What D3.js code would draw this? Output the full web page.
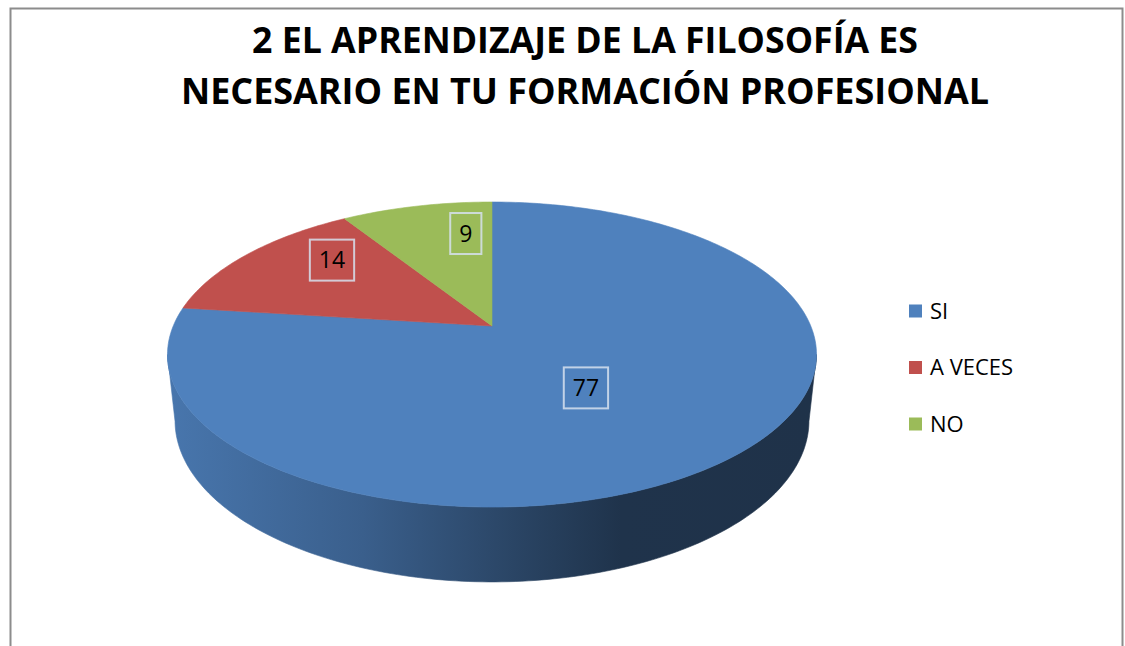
<!DOCTYPE html>
<html lang="es">
<head>
  <meta charset="UTF-8">
  <title>2 El aprendizaje de la filosofía</title>
  <style>
    *{box-sizing:border-box;margin:0;padding:0}
    body{background:#fff;width:1125px;height:646px;overflow:hidden}
    text{font-family:'Open Sans','DejaVu Sans',sans-serif;fill:#000}
  </style>
  <script src="https://d3js.org/d3.v7.min.js"></script>
</head>
<body>
  <div id="chart"></div>
  <script>
    /* ---------- DATA ---------- */
    const categories = ['SI', 'A VECES', 'NO'];
    const values     = [77, 14, 9];
    const colors     = ['#4f81bd', '#c0504d', '#9bbb59'];
    const titleLines = ['2 EL APRENDIZAJE DE LA FILOSOFÍA ES', 'NECESARIO EN TU FORMACIÓN PROFESIONAL'];
    // where each label sits: fraction along the slice, fraction of radius (best fit look)
    const labelAt    = [{t:0.523, r:0.476}, {t:0.685, r:0.734}, {t:0.77, r:0.718}];

    /* ---------- 3D SETUP ---------- */
    const W = 1125, H = 646;
    const cx = 492, cy = 326;          // screen position of the pie centre
    const tilt = 27.5 * Math.PI / 180;  // elevation of the camera
    const camDist = 4.74, focal = 1511, depth = 0.236;  // radius = 1
    const cs = Math.cos(tilt), sn = Math.sin(tilt);

    function proj(X, Z, h){
      const w = camDist - Z*cs + h*sn;
      return [cx + focal*X/w, cy + focal*(Z*sn + h*cs)/w];
    }
    const rim = (a, r=1, h=0) => proj(r*Math.sin(a), -r*Math.cos(a), h);
    const sampleArc = (a0, a1) => {
      const n = Math.max(2, Math.ceil(Math.abs(a1-a0)/(Math.PI/180)));
      return d3.range(n+1).map(i => a0 + (a1-a0)*i/n);
    };

    const svg = d3.select('#chart').append('svg').attr('width', W).attr('height', H);

    // chart frame
    svg.append('rect').attr('x', 10.5).attr('y', 8.5).attr('width', 1112).attr('height', 700)
       .attr('fill', '#fff').attr('stroke', '#8c8c8c').attr('stroke-width', 2);

    /* ---------- TITLE ---------- */
    const titleY = [53, 104], titleLen = [666, 808];
    svg.append('g').selectAll('text').data(titleLines).join('text')
       .attr('x', 585).attr('y', (d,i) => titleY[i])
       .attr('text-anchor', 'middle')
       .attr('font-size', 36).attr('font-weight', 700)
       .attr('textLength', (d,i) => titleLen[i]).attr('lengthAdjust', 'spacingAndGlyphs')
       .text(d => d);

    /* ---------- PIE ---------- */
    const arcs = d3.pie().sort(null).value(d => d)(values);
    const line = d3.line();

    // silhouette angles of the cylinder (left- and right-most rim points)
    const probe = d3.range(0, 360, 0.25).map(d => d*Math.PI/180);
    const aRight = probe.reduce((b, a) => rim(a)[0] > rim(b)[0] ? a : b, probe[0]);
    const aLeft  = probe.reduce((b, a) => rim(a)[0] < rim(b)[0] ? a : b, probe[0]);

    const defs = svg.append('defs');
    arcs.forEach((d, i) => {
      const base = d3.color(colors[i]);
      const g = defs.append('linearGradient').attr('id', 'side' + i)
        .attr('gradientUnits', 'userSpaceOnUse')
        .attr('x1', rim(aLeft)[0]).attr('x2', rim(aRight)[0]).attr('y1', 0).attr('y2', 0);
      [[0, 0.25], [0.3, 0.85], [0.55, 1.85], [0.7, 2.6], [1, 2.65]].forEach(([o, k]) =>
        g.append('stop').attr('offset', o).attr('stop-color', base.darker(k).formatHex()));
    });

    // side walls (front part only)
    const sideG = svg.append('g');
    arcs.forEach((d, i) => {
      const a0 = Math.max(d.startAngle, aRight), a1 = Math.min(d.endAngle, aLeft);
      if (a1 <= a0) return;
      const as = sampleArc(a0, a1);
      const pts = as.map(a => rim(a)).concat(as.slice().reverse().map(a => rim(a, 1, depth)));
      sideG.append('path').attr('d', line(pts) + 'Z')
           .attr('fill', `url(#side${i})`).attr('stroke', `url(#side${i})`).attr('stroke-width', 0.6);
    });

    // top faces
    svg.append('g').selectAll('path').data(arcs).join('path')
       .attr('d', d => line([proj(0,0,0)].concat(sampleArc(d.startAngle, d.endAngle).map(a => rim(a)))) + 'Z')
       .attr('fill', (d,i) => colors[i]).attr('stroke', (d,i) => colors[i]).attr('stroke-width', 0.6);

    /* ---------- DATA LABELS ---------- */
    const lab = svg.append('g').selectAll('g').data(arcs).join('g')
       .attr('transform', (d,i) => {
         const a = d.startAngle + (d.endAngle - d.startAngle)*labelAt[i].t;
         return `translate(${rim(a, labelAt[i].r)})`;
       });
    lab.append('text').attr('text-anchor', 'middle').attr('dy', '0.36em')
       .attr('font-size', 23).text(d => d.data);
    lab.insert('rect', 'text').each(function(){
      const tw = this.parentNode.querySelector('text').getComputedTextLength();
      d3.select(this).attr('x', -tw/2 - 9).attr('y', -20.5).attr('width', tw + 18).attr('height', 41);
    }).attr('fill', 'none').attr('stroke', '#d6e0ef').attr('stroke-opacity', 0.85).attr('stroke-width', 2);

    /* ---------- LEGEND ---------- */
    const legend = svg.append('g').selectAll('g').data(categories).join('g')
       .attr('transform', (d,i) => `translate(909,${311 + i*56.5})`);
    legend.append('rect').attr('x', 0).attr('y', -6.5).attr('width', 13).attr('height', 13)
       .attr('fill', (d,i) => colors[i]);
    legend.append('text').attr('x', 21).attr('y', 7.5).attr('font-size', 22).text(d => d);
  </script>
</body>
</html>
